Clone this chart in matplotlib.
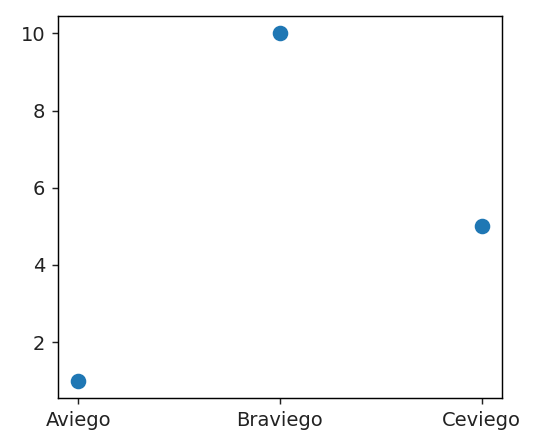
import matplotlib
matplotlib.use("Agg")
import matplotlib.pyplot as plt

names = ["Aviego", "Braviego", "Ceviego"]
values = [1, 10, 5]

plt.rcParams["font.size"] = 10.8
plt.rcParams["xtick.color"] = "#222222"
plt.rcParams["ytick.color"] = "#222222"

dpi = 130
fig = plt.figure(figsize=(543 / dpi, 446 / dpi), dpi=dpi)
ax = fig.add_axes([58 / 543, 1 - 398 / 446, (502 - 58) / 543, (398 - 16) / 446])
ax.scatter(names, values, s=58)
ax.set_yticks([2, 4, 6, 8, 10])

fig.savefig("out.png", dpi=dpi)
